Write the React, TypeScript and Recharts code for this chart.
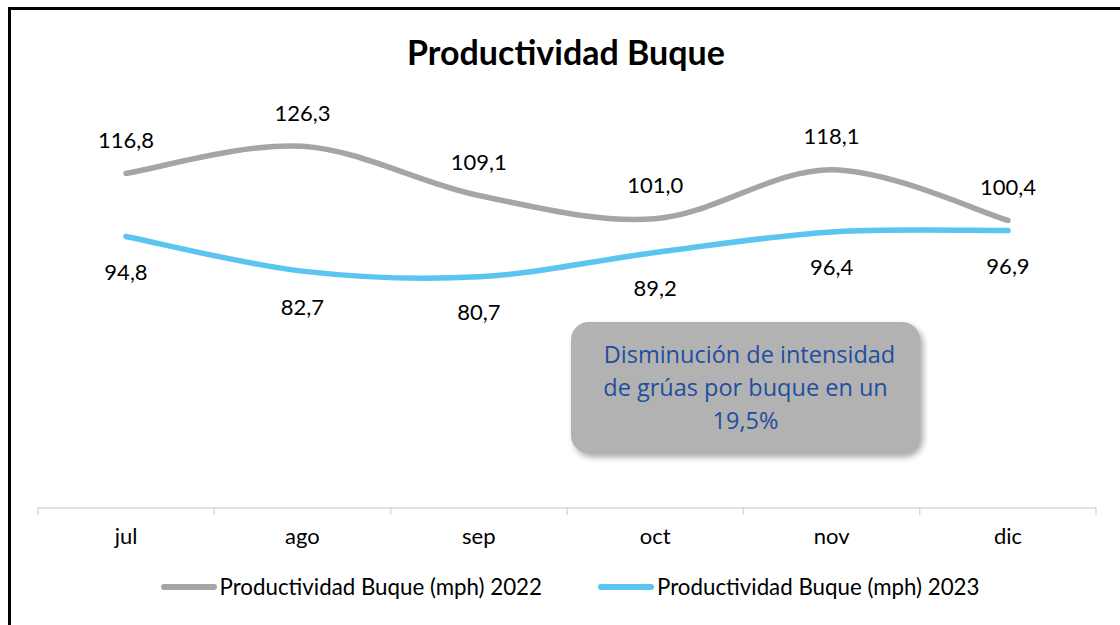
import { LineChart, Line, XAxis, YAxis, Legend, LabelList } from 'recharts';

const months = ['jul', 'ago', 'sep', 'oct', 'nov', 'dic'];
const prod2022 = [116.8, 126.3, 109.1, 101.0, 118.1, 100.4];
const prod2023 = [94.8, 82.7, 80.7, 89.2, 96.4, 96.9];

const data = months.map((m, i) => ({ month: m, y2022: prod2022[i], y2023: prod2023[i] }));

const GRAY = '#a5a5a5';
const BLUE = '#5bc5f0';
const AXIS = '#d9d9d9';
const FONT = 'Lato, "Open Sans", sans-serif';

// Excel-like smoothing (Catmull-Rom through the points)
const smoothCurve = (context: any) => {
  let pts: [number, number][] = [];
  return {
    areaStart() {},
    areaEnd() {},
    lineStart() {
      pts = [];
    },
    lineEnd() {
      if (!pts.length) return;
      context.moveTo(pts[0][0], pts[0][1]);
      for (let i = 0; i < pts.length - 1; i++) {
        const p0 = pts[Math.max(i - 1, 0)];
        const p1 = pts[i];
        const p2 = pts[i + 1];
        const p3 = pts[Math.min(i + 2, pts.length - 1)];
        context.bezierCurveTo(
          p1[0] + (p2[0] - p0[0]) / 6,
          p1[1] + (p2[1] - p0[1]) / 6,
          p2[0] - (p3[0] - p1[0]) / 6,
          p2[1] - (p3[1] - p1[1]) / 6,
          p2[0],
          p2[1]
        );
      }
    },
    point(x: number, y: number) {
      pts.push([+x, +y]);
    },
  };
};

const fmt = (v: number) => v.toFixed(1).replace('.', ',');

const makeLabel = (dy: number) => (props: any) => {
  const { x, y, value } = props;
  return (
    <text x={x} y={y + dy} textAnchor="middle" dominantBaseline="central" fontSize={22} fontFamily={FONT} fill="#000">
      {fmt(value)}
    </text>
  );
};

// tick marks between categories (band edges)
const BoundaryTick = (props: any) => {
  const { x, payload, index, visibleTicksCount } = props;
  const half = payload && payload.offset ? payload.offset : 0;
  const y0 = props.y - (props.tickMargin ?? 0) - 2;
  return (
    <g>
      <line x1={x - half} x2={x - half} y1={y0} y2={y0 + 8} stroke={AXIS} strokeWidth={1.5} />
      {index === visibleTicksCount - 1 && (
        <line x1={x + half} x2={x + half} y1={y0} y2={y0 + 8} stroke={AXIS} strokeWidth={1.5} />
      )}
    </g>
  );
};

const renderLegend = () => (
  <div style={{ display: 'flex', justifyContent: 'center', alignItems: 'center', fontFamily: FONT, fontSize: 22.3, color: '#000', paddingLeft: 20 }}>
    {[
      { name: 'Productividad Buque (mph) 2022', color: GRAY },
      { name: 'Productividad Buque (mph) 2023', color: BLUE },
    ].map((item, i) => (
      <div key={item.name} style={{ display: 'flex', alignItems: 'center', marginLeft: i ? 56 : 0 }}>
        <span style={{ display: 'inline-block', width: 56, height: 6, borderRadius: 3, background: item.color, marginRight: 3 }} />
        <span>{item.name}</span>
      </div>
    ))}
  </div>
);

export default function App() {
  return (
    <div style={{ position: 'fixed', left: 0, top: 0, width: 1120, height: 625, overflow: 'hidden', background: '#fff' }}>
      <div style={{ position: 'absolute', left: 8, top: 7, width: 1300, height: 700, border: '3px solid #000', boxSizing: 'border-box' }} />
      <div
        style={{
          position: 'absolute',
          left: 0,
          width: 1132,
          top: 34,
          textAlign: 'center',
          fontFamily: FONT,
          fontWeight: 700,
          fontSize: 34,
          lineHeight: '36px',
          color: '#000',
        }}
      >
        Productividad Buque
      </div>
      <div style={{ position: 'absolute', left: 0, top: 0 }}>
        <LineChart width={1120} height={625} data={data} margin={{ top: 107, right: 24, bottom: 115, left: 38 }}>
          <XAxis
            xAxisId="cat"
            dataKey="month"
            height={1}
            padding={{ left: 88, right: 88 }}
            axisLine={{ stroke: AXIS, strokeWidth: 1.5 }}
            tickLine={false}
            tickSize={0}
            tickMargin={20}
            tick={{ fill: '#000', fontSize: 22, fontFamily: FONT }}
          />
          <XAxis
            xAxisId="grid"
            dataKey="month"
            scale="band"
            interval={0}
            axisLine={false}
            tickLine={false}
            tickSize={0}
            tickMargin={0}
            tick={<BoundaryTick />}
            height={1}
          />
          <YAxis hide domain={[0, 140]} />
          <Legend
            layout="horizontal"
            verticalAlign="middle"
            align="center"
            wrapperStyle={{ top: 573, left: 0, width: 1120 }}
            content={renderLegend}
          />
          <Line
            xAxisId="cat"
            dataKey="y2022"
            type={smoothCurve as any}
            stroke={GRAY}
            strokeWidth={5.5}
            strokeLinecap="round"
            dot={false}
            activeDot={false}
            isAnimationActive={false}
          >
            <LabelList dataKey="y2022" content={makeLabel(-34)} />
          </Line>
          <Line
            xAxisId="cat"
            dataKey="y2023"
            type={smoothCurve as any}
            stroke={BLUE}
            strokeWidth={5.5}
            strokeLinecap="round"
            dot={false}
            activeDot={false}
            isAnimationActive={false}
          >
            <LabelList dataKey="y2023" content={makeLabel(35)} />
          </Line>
        </LineChart>
      </div>
      <div
        style={{
          position: 'absolute',
          left: 571,
          top: 322,
          width: 349,
          height: 131,
          borderRadius: 18,
          background: '#b2b2b2',
          boxShadow: '3px 4px 6px rgba(0,0,0,0.35)',
          display: 'flex',
          flexDirection: 'column',
          justifyContent: 'center',
          alignItems: 'center',
          fontFamily: '"Open Sans", sans-serif',
          fontSize: 23.5,
          lineHeight: '33px',
          color: '#1f4ea0',
          textAlign: 'center',
        }}
      >
        <div style={{ marginLeft: 8 }}>Disminución de intensidad</div>
        <div>de grúas por buque en un</div>
        <div>19,5%</div>
      </div>
    </div>
  );
}
